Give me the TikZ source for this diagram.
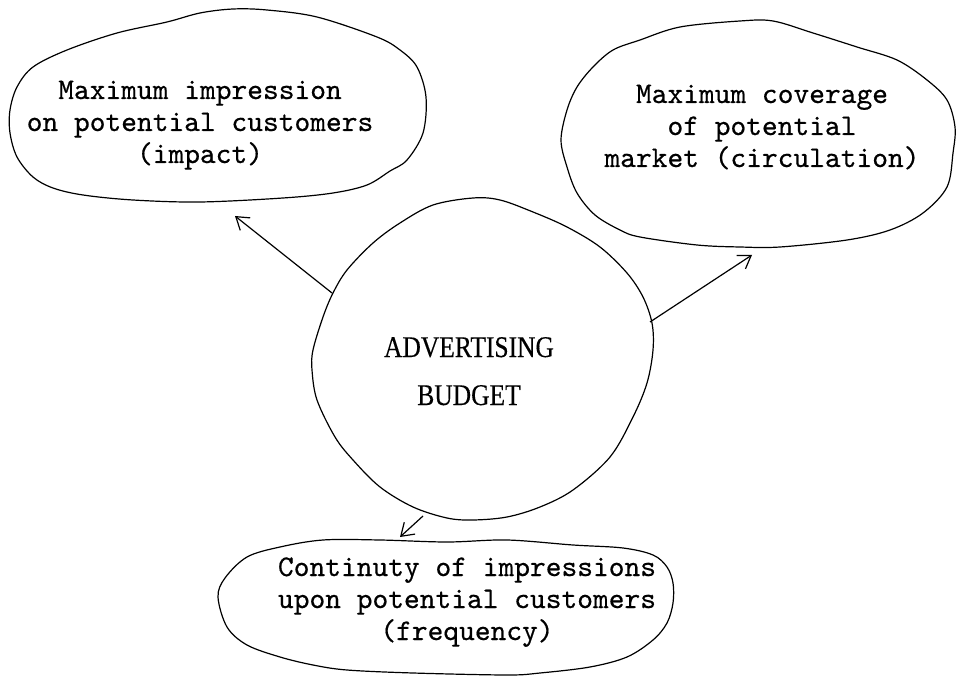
\documentclass[tikz,border=0pt]{standalone}
\usepackage{fontspec}
\usetikzlibrary{arrows.meta}
\newfontfamily\capsface[FakeStretch=0.85,FakeBold=0.3]{Liberation Serif}
\newfontfamily\typeface[FakeBold=0.5]{lmmono10-regular.otf}
\tikzset{
  outline/.style={line width=1.2pt, line join=round, smooth cycle, tension=0.55},
  typed/.style={font=\typeface\fontsize{30}{32}\selectfont, align=center, inner sep=0pt, anchor=base},
  capstext/.style={font=\capsface\fontsize{30}{48}\selectfont, align=center, inner sep=0pt, anchor=base},
  pointer/.style={line width=1.2pt, -{Straight Barb[length=12pt,width=16pt,line width=1.2pt]}},
}
\begin{document}
\begin{tikzpicture}[x=1pt, y=-1pt]
\useasboundingbox (0,0) rectangle (956,676);

% hand-drawn outlines
\draw[outline] plot coordinates {(10,110) (17,87) (33,67) (67,50) (117,33) (167,22) (200,13) (233,9) (267,10) (317,17) (377,37) (400,50) (417,67) (426,97) (423,133) (407,160) (390,171) (367,185) (333,193) (283,198) (200,202) (133,200) (83,195) (53,188) (33,177) (17,157) (10,133)};

\draw[outline] plot coordinates {(561,140) (567,110) (577,87) (593,67) (613,50) (640,40) (680,27) (740,21) (773,21) (813,33) (857,47) (897,60) (927,80) (947,100) (955,127) (953,153) (947,187) (923,213) (890,230) (847,240) (780,247) (740,247) (697,245) (640,237) (620,230) (595,215) (577,193) (567,167)};

\draw[outline] plot coordinates {(473,198) (500,200) (533,212) (567,227) (600,247) (627,273) (643,297) (652,323) (653,350) (647,383) (633,417) (610,457) (573,490) (540,507) (507,517) (473,520) (447,518) (413,507) (380,487) (353,460) (335,437) (317,400) (312,370) (313,350) (323,317) (333,293) (347,270) (373,243) (400,223) (433,205)};

\draw[outline] plot coordinates {(218,597) (225,578) (247,557) (280,547) (323,540) (380,540) (447,542) (507,540) (573,545) (623,548) (653,555) (667,567) (673,583) (673,603) (667,623) (653,640) (627,657) (590,667) (540,673) (507,675) (413,673) (347,670) (313,665) (280,657) (247,645) (227,627)};

% texts (anchored at the baseline of the last line)
\node[typed] (impact) at (200,163) {Maximum impression\\on potential customers\\(impact)};
\node[typed] (coverage) at (762,167) {Maximum coverage\\of potential\\market (circulation)};
\node[capstext] (budget) at (469,405) {ADVERTISING\\BUDGET};
\node[typed] (frequency) at (467,640) {Continuty of impressions\\upon potential customers\\(frequency)};

% connector ends on the outlines
\coordinate (budgetNW) at (332,293);
\coordinate (budgetE) at (650,322);
\coordinate (budgetS) at (423,516);
\coordinate (impactS) at (235,216);
\coordinate (coverageS) at (752,255);
\coordinate (frequencyN) at (400,537);

\draw[pointer] (budgetNW) -- (impactS);
\draw[pointer] (budgetE) -- (coverageS);
\draw[pointer] (budgetS) -- (frequencyN);
\end{tikzpicture}
\end{document}
